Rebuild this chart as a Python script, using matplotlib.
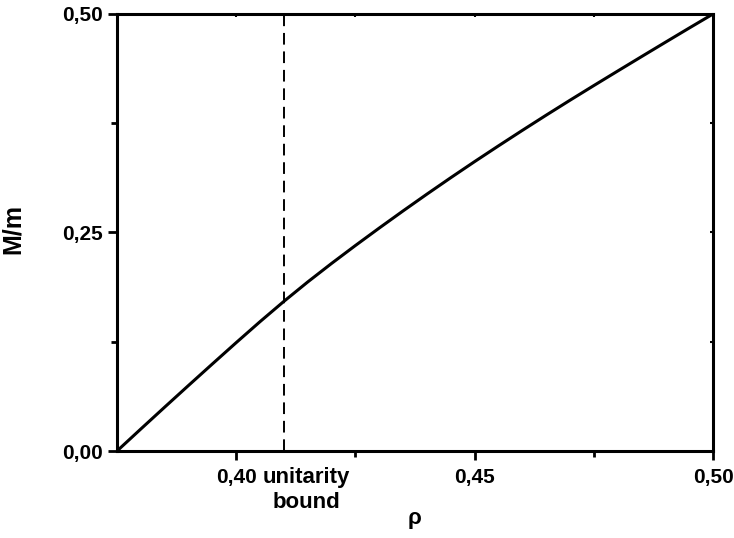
import numpy as np
import matplotlib
matplotlib.use("Agg")
import matplotlib.pyplot as plt
from matplotlib.ticker import FixedLocator, FixedFormatter

plt.rcParams['font.family'] = ['Liberation Sans', 'DejaVu Sans']
plt.rcParams['font.weight'] = 'bold'

# curve values
rho = [0.375, 0.380, 0.385, 0.390, 0.395, 0.400, 0.405, 0.410, 0.415, 0.420,
       0.425, 0.430, 0.435, 0.440, 0.445, 0.450, 0.455, 0.460, 0.465, 0.470,
       0.475, 0.480, 0.485, 0.490, 0.495, 0.500]
mass = [0.0, 0.0252, 0.0502, 0.0750, 0.0996, 0.1240, 0.1480, 0.1712, 0.1934, 0.2146,
        0.2351, 0.2551, 0.2747, 0.2939, 0.3127, 0.3311, 0.3491, 0.3668, 0.3842, 0.4013,
        0.4181, 0.4347, 0.4512, 0.4676, 0.4839, 0.500]

unitarity_rho = 0.41
xticks = [0.40, 0.45, 0.50]
xticklabels = ["0,40", "0,45", "0,50"]
yticks = [0.0, 0.25, 0.50]
yticklabels = ["0,00", "0,25", "0,50"]

fig = plt.figure(figsize=(7.34, 5.38), dpi=100)
ax = fig.add_axes([0.1594, 0.1617, 0.9714 - 0.1594, 0.974 - 0.1617])

ax.plot(rho, mass, color='black', lw=2.2, solid_capstyle='round', solid_joinstyle='round')
ax.axvline(unitarity_rho, color='black', lw=1.4, dashes=(6, 3.5))

ax.set_xlim(0.375, 0.50)
ax.set_ylim(0.0, 0.50)

ax.xaxis.set_major_locator(FixedLocator(xticks))
ax.xaxis.set_major_formatter(FixedFormatter(xticklabels))
ax.xaxis.set_minor_locator(FixedLocator([0.425, 0.475]))
ax.yaxis.set_major_locator(FixedLocator(yticks))
ax.yaxis.set_major_formatter(FixedFormatter(yticklabels))
ax.yaxis.set_minor_locator(FixedLocator([0.125, 0.375]))

for s in ax.spines.values():
    s.set_linewidth(2.2)

ax.tick_params(which='major', direction='out', length=6.5, width=2, labelsize=15, pad=4)
ax.tick_params(which='minor', direction='out', length=4, width=2)
ax.tick_params(axis='x', which='major', pad=6)
for lab in ax.get_xticklabels() + ax.get_yticklabels():
    lab.set_fontweight('bold')

# small inward ticks on the top and right spines
ax2 = ax.twinx()
ax2.set_ylim(ax.get_ylim())
ax2.yaxis.set_major_locator(FixedLocator([0.125, 0.25, 0.375]))
ax2.tick_params(direction='in', length=2, width=1.5, labelright=False)
ax3 = ax.twiny()
ax3.set_xlim(ax.get_xlim())
ax3.xaxis.set_major_locator(FixedLocator([0.40, 0.425, 0.45, 0.475]))
ax3.tick_params(direction='in', length=2, width=1.5, labeltop=False)

trans = ax.get_xaxis_transform()
ax.text(0.4148, -0.036, "unitarity\nbound", transform=trans, ha='center', va='top',
        fontsize=16, fontweight='bold', linespacing=1.25)

ax.set_xlabel("ρ", fontsize=16, fontweight='bold')
ax.xaxis.set_label_coords(0.5, -0.13)
ax.set_ylabel("M/m", fontsize=18, fontweight='bold')
ax.yaxis.set_label_coords(-0.154, 0.508)

fig.savefig("out.png", dpi=100)
